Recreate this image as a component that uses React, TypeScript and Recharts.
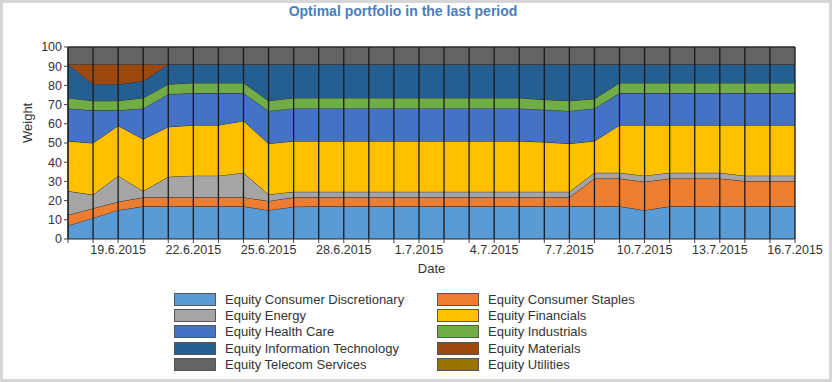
import React from 'react';
import { AreaChart, Area, XAxis, YAxis, ReferenceLine } from 'recharts';

const dates = [
  '17.6.2015', '18.6.2015', '19.6.2015', '20.6.2015', '21.6.2015', '22.6.2015', '23.6.2015', '24.6.2015',
  '25.6.2015', '26.6.2015', '27.6.2015', '28.6.2015', '29.6.2015', '30.6.2015', '1.7.2015', '2.7.2015',
  '3.7.2015', '4.7.2015', '5.7.2015', '6.7.2015', '7.7.2015', '8.7.2015', '9.7.2015', '10.7.2015',
  '11.7.2015', '12.7.2015', '13.7.2015', '14.7.2015', '15.7.2015', '16.7.2015',
];
const labeledDates = ['19.6.2015', '22.6.2015', '25.6.2015', '28.6.2015', '1.7.2015', '4.7.2015', '7.7.2015', '10.7.2015', '13.7.2015', '16.7.2015'];
const yTicks = [0, 10, 20, 30, 40, 50, 60, 70, 80, 90, 100];

const consumerDiscretionary = [7, 11, 15, 17, 17, 17, 17, 17, 15, 16.8, 17, 17, 17, 17, 17, 17, 17, 17, 17, 17, 17, 17, 17, 15, 17, 17, 17, 17, 17, 17];
const consumerStaples = [5.5, 5, 4.4, 4.7, 4.7, 4.7, 4.7, 4.7, 4.8, 4.9, 4.7, 4.7, 4.7, 4.7, 4.7, 4.7, 4.7, 4.7, 4.7, 4.7, 4.7, 14.5, 14.5, 14.8, 14.5, 14.5, 14.5, 13.2, 13.2, 13.2];
const energy = [12.5, 7, 13.6, 3.3, 10.7, 11.3, 11.3, 12.8, 3.4, 2.9, 2.9, 2.9, 2.9, 2.9, 2.9, 2.9, 2.9, 2.9, 2.9, 2.9, 2.9, 3, 3, 3.2, 3, 3, 3, 2.8, 2.8, 2.8];
const financials = [26, 27, 26, 27, 26, 26.3, 26.3, 27, 26.5, 26.4, 26.4, 26.4, 26.4, 26.4, 26.4, 26.4, 26.4, 26.4, 26.4, 25.9, 25.1, 16.5, 24.8, 26.3, 24.8, 24.8, 24.8, 26.3, 26.3, 26.3];
const healthCare = [17, 17, 8, 16, 17, 16.7, 16.7, 14.5, 17, 17, 17, 17, 17, 17, 17, 17, 17, 17, 17, 16.8, 17, 17, 16.7, 16.7, 16.7, 16.7, 16.7, 16.7, 16.7, 16.7];
const industrials = [5.5, 5, 5, 5.5, 5.2, 5.3, 5.3, 5.3, 5.3, 5.5, 5.5, 5.5, 5.5, 5.5, 5.5, 5.5, 5.5, 5.5, 5.5, 5.3, 5.3, 5, 5.3, 5.3, 5.3, 5.3, 5.3, 5.3, 5.3, 5.3];
const informationTechnology = [17.5, 8.6, 8.6, 8.8, 10.4, 9.7, 9.7, 9.7, 19, 17.5, 17.5, 17.5, 17.5, 17.5, 17.5, 17.5, 17.5, 17.5, 17.5, 18.4, 19, 18, 9.7, 9.7, 9.7, 9.7, 9.7, 9.7, 9.7, 9.7];
const materials = [0, 10.4, 10.4, 8.7, 0, 0, 0, 0, 0, 0, 0, 0, 0, 0, 0, 0, 0, 0, 0, 0, 0, 0, 0, 0, 0, 0, 0, 0, 0, 0];
const telecomServices = [9, 9, 9, 9, 9, 9, 9, 9, 9, 9, 9, 9, 9, 9, 9, 9, 9, 9, 9, 9, 9, 9, 9, 9, 9, 9, 9, 9, 9, 9];
const utilities = [0, 0, 0, 0, 0, 0, 0, 0, 0, 0, 0, 0, 0, 0, 0, 0, 0, 0, 0, 0, 0, 0, 0, 0, 0, 0, 0, 0, 0, 0];

const series = [
  { key: 'cd', name: 'Equity Consumer Discretionary', color: '#5B9BD5', values: consumerDiscretionary },
  { key: 'cs', name: 'Equity Consumer Staples', color: '#ED7D31', values: consumerStaples },
  { key: 'en', name: 'Equity Energy', color: '#A5A5A5', values: energy },
  { key: 'fi', name: 'Equity Financials', color: '#FFC000', values: financials },
  { key: 'hc', name: 'Equity Health Care', color: '#4472C4', values: healthCare },
  { key: 'in', name: 'Equity Industrials', color: '#70AD47', values: industrials },
  { key: 'it', name: 'Equity Information Technology', color: '#255E91', values: informationTechnology },
  { key: 'ma', name: 'Equity Materials', color: '#9E480E', values: materials },
  { key: 'te', name: 'Equity Telecom Services', color: '#636363', values: telecomServices },
  { key: 'ut', name: 'Equity Utilities', color: '#997300', values: utilities },
];

const data = dates.map((d, i) => {
  const row: Record<string, any> = { date: d };
  series.forEach((s) => { row[s.key] = s.values[i]; });
  return row;
});

const FONT = '"Liberation Sans", Arial, sans-serif';

export default function App() {
  return (
    <div style={{ position: 'relative', width: 832, height: 382, boxSizing: 'border-box', border: '3px solid #d6d6d6', background: '#fff', fontFamily: FONT, overflow: 'hidden' }}>
      <style>{`body{margin:0}`}</style>
      <div style={{ position: 'absolute', left: -3, top: -3, width: 832, height: 382 }}>
        <div style={{ position: 'absolute', top: 3, left: 0, width: 806, textAlign: 'center', fontSize: 14, fontWeight: 'bold', color: '#4A7EBB' }}>
          Optimal portfolio in the last period
        </div>
        <AreaChart width={832} height={382} data={data} margin={{ top: 47, right: 37, left: 0, bottom: 103 }} style={{ fontFamily: FONT }}>
          <XAxis
            dataKey="date"
            interval={0}
            tickFormatter={(v: string) => (labeledDates.includes(v) ? v : '')}
            tick={{ fontSize: 12.5, fill: '#333' }}
            tickSize={4}
            tickMargin={2}
            axisLine={{ stroke: '#222' }}
            tickLine={{ stroke: '#444' }}
            height={40}
            label={{ value: 'Date', position: 'insideBottom', offset: 6, fontSize: 13, fill: '#333' }}
          />
          <YAxis
            domain={[0, 100]}
            ticks={yTicks}
            interval={0}
            width={68}
            tick={{ fontSize: 12.5, fill: '#333' }}
            tickSize={4}
            tickMargin={2}
            axisLine={{ stroke: '#222' }}
            tickLine={{ stroke: '#444' }}
            label={{ value: 'Weight', angle: -90, position: 'insideLeft', offset: 27, fontSize: 13, fill: '#333' }}
          />
          {series.map((s) => (
            <Area
              key={s.key}
              type="linear"
              dataKey={s.key}
              name={s.name}
              stackId="1"
              stroke="#2a2a2a"
              strokeWidth={1}
              fill={s.color}
              fillOpacity={1}
              dot={false}
              activeDot={false}
              isAnimationActive={false}
            />
          ))}
          {dates.map((d) => (
            <ReferenceLine key={d} x={d} stroke="#1a1a1a" strokeWidth={1.3} />
          ))}
        </AreaChart>
        <div style={{ position: 'absolute', left: 174, top: 291, display: 'grid', gridTemplateColumns: '263px 300px', rowGap: 0 }}>
          {series.map((s) => (
            <div key={s.key} style={{ display: 'flex', alignItems: 'center', height: 16.3, fontSize: 13, color: '#333', whiteSpace: 'nowrap' }}>
              <span style={{ display: 'inline-block', width: 40, height: 11, background: s.color, border: '1px solid #555', marginRight: 9 }} />
              {s.name}
            </div>
          ))}
        </div>
      </div>
    </div>
  );
}
